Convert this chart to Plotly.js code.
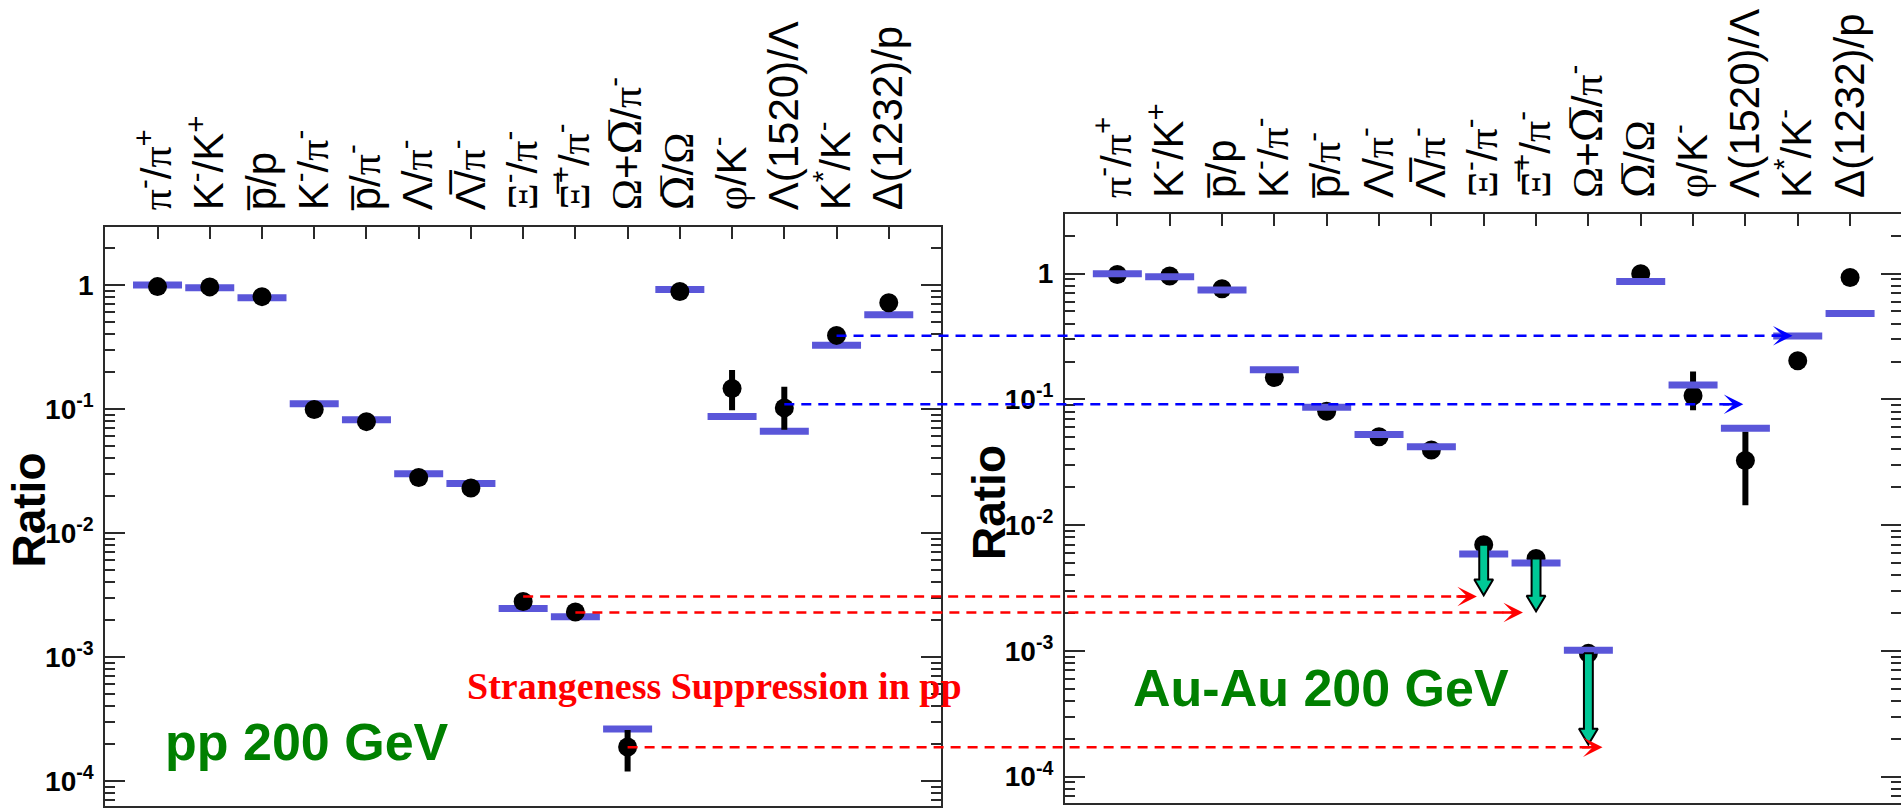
<!DOCTYPE html>
<html>
<head>
<meta charset="utf-8">
<script src="https://cdn.plot.ly/plotly-3.0.1.min.js"></script>
<style>
  html, body { margin: 0; padding: 0; background: #ffffff; }
  #chart { width: 1901px; height: 808px; }
</style>
</head>
<body>
<div id="chart"></div>
<script>
// Greek letters in a serif face, like the symbol font of the labels
const G = s => `<span style="font-family:'Liberation Serif','Times New Roman',serif">${s}</span>`;
// Barred Omega: a face that carries both the letter and the combining overline
const GB = s => `<span style="font-family:'DejaVu Serif',serif">${s}</span>`;
const OVER = '\u0305'; // combining overline for antiparticles

// Particle ratio categories (tick labels along the top axis)
const categories = [
  G('π') + '<sup>-</sup>/' + G('π') + '<sup>+</sup>',
  'K<sup>-</sup>/K<sup>+</sup>',
  'p' + OVER + '/p',
  'K<sup>-</sup>/' + G('π') + '<sup>-</sup>',
  'p' + OVER + '/' + G('π') + '<sup>-</sup>',
  'Λ/' + G('π') + '<sup>-</sup>',
  'Λ' + OVER + '/' + G('π') + '<sup>-</sup>',
  G('Ξ') + '<sup>-</sup>/' + G('π') + '<sup>-</sup>',
  G('Ξ' + OVER) + '<sup>+</sup>/' + G('π') + '<sup>-</sup>',
  G('Ω') + '+' + GB('Ω' + OVER) + '/' + G('π') + '<sup>-</sup>',
  GB('Ω' + OVER) + '/' + G('Ω'),
  G('φ') + '/K<sup>-</sup>',
  'Λ(1520)/Λ',
  'K<sup>*</sup>/K<sup>-</sup>',
  'Δ(1232)/p'
];
const catIndex = categories.map((_, i) => i + 1);

// p+p 200 GeV: measured ratios and model values
const ppData      = [0.97, 0.965, 0.805, 0.099, 0.079, 0.028, 0.023, 0.0028, 0.0023, 1.88e-4, 0.885, 0.146, 0.102, 0.392, 0.72];
const ppErrPlus   = [0, 0, 0, 0, 0, 0, 0, 0, 0, 0.55e-4, 0, 0.049, 0.041, 0, 0];
const ppErrMinus  = [0, 0, 0, 0, 0, 0, 0, 0, 0, 0.62e-4, 0, 0.043, 0.030, 0, 0];
const ppModel     = [1.0, 0.95, 0.79, 0.11, 0.082, 0.030, 0.025, 0.00246, 0.00211, 2.62e-4, 0.92, 0.087, 0.066, 0.327, 0.574];

// Au+Au 200 GeV: measured ratios and model values
const auData      = [0.986, 0.958, 0.758, 0.149, 0.0806, 0.0504, 0.0396, 0.00697, 0.00543, 9.55e-4, 1.0, 0.107, 0.0327, 0.203, 0.932];
const auErrPlus   = [0, 0, 0, 0, 0, 0, 0, 0, 0, 0, 0, 0.051, 0.0199, 0, 0];
const auErrMinus  = [0, 0, 0, 0, 0, 0, 0, 0, 0, 0, 0, 0.0205, 0.0175, 0, 0];
const auModel     = [1.0, 0.945, 0.742, 0.172, 0.0866, 0.0526, 0.042, 0.00589, 0.00499, 1.01e-3, 0.868, 0.13, 0.059, 0.319, 0.482];

// Au+Au multi-strange ratios drawn down to the p+p level
const limitCats   = [8, 9, 10];
const limitTo     = [0.00277, 0.00206, 1.8e-4];

// Dashed guide lines carried from the p+p panel into the Au+Au panel
const strangeCats   = [8, 9, 10];
const strangeLevels = [0.00307, 0.00228, 1.87e-4];
const strangeShift  = [-0.13, -0.25, 0.27];
const resoCats      = [14, 13];
const resoLevels    = [0.39, 0.109];
const resoShift     = [-0.1, -0.04];

// y axis labels
const decadeVals = [1e-4, 1e-3, 1e-2, 1e-1, 1];
const decadeText = ['10<sup>-4</sup>', '10<sup>-3</sup>', '10<sup>-2</sup>', '10<sup>-1</sup>', '1'];
const minorVals = [];
for (let e = -5; e <= 0; e++) for (let m = 2; m <= 9; m++) minorVals.push(m * Math.pow(10, e));

const FRAME = '#2a2a2a';
const MODEL_BLUE = '#5a56d9';
const SANS = "'Liberation Sans', Arial, Helvetica, sans-serif";
const SERIF = "'Liberation Serif', 'Times New Roman', serif";

const xLeft  = { domain: [0.05539, 0.49500], range: [0, 16] };
const xRight = { domain: [0.56023, 1.0], range: [0, 15.973] };
const yLeft  = { domain: [0.00285, 0.71943], range: [-4.20, 0.470] };
const yRight = { domain: [0.00668, 0.73478], range: [-4.207, 0.472] };

function xAxis(spec, anchor) {
  return {
    domain: spec.domain, range: spec.range, anchor: anchor, side: 'top',
    tickmode: 'array', tickvals: catIndex, ticktext: categories, tickangle: -90,
    ticks: 'inside', ticklen: 12, tickwidth: 2, tickcolor: FRAME,
    showline: true, linewidth: 2, linecolor: FRAME, mirror: true,
    showgrid: false, zeroline: false, ticklabelstandoff: 6,
    tickfont: { family: SANS, size: 42, color: '#000' }
  };
}
function yAxis(spec, anchor) {
  return {
    type: 'log', domain: spec.domain, range: spec.range, anchor: anchor,
    tickmode: 'array', tickvals: decadeVals, ticktext: decadeText,
    ticks: 'inside', ticklen: 20, tickwidth: 2, tickcolor: FRAME,
    minor: { tickmode: 'array', tickvals: minorVals, ticks: 'inside', ticklen: 10, tickwidth: 2, tickcolor: FRAME, showgrid: false },
    showline: true, linewidth: 2, linecolor: FRAME, mirror: 'ticks',
    showgrid: false, zeroline: false, ticklabelstandoff: 4,
    tickfont: { family: SANS, size: 28, weight: 'bold', color: '#000' }
  };
}

function modelTrace(vals, xa, ya) {
  return {
    type: 'scatter', mode: 'markers', x: catIndex, y: vals, xaxis: xa, yaxis: ya,
    marker: { symbol: 'line-ew', size: 35, color: MODEL_BLUE, line: { width: 7, color: MODEL_BLUE } },
    hoverinfo: 'skip'
  };
}
function dataTrace(vals, plus, minus, xa, ya) {
  return {
    type: 'scatter', mode: 'markers', x: catIndex, y: vals, xaxis: xa, yaxis: ya,
    marker: { symbol: 'circle', size: 19, color: '#000' },
    error_y: { type: 'data', symmetric: false, array: plus, arrayminus: minus, color: '#000', thickness: 6, width: 3 },
    hoverinfo: 'skip'
  };
}

// Down arrows (filled teal, black outline) from the Au+Au points to the p+p level
const arrowBody = 0.085, arrowHead = 0.18, arrowHeadDec = 0.125;
const ax = [], ay = [];
limitCats.forEach((c, i) => {
  const top = auData[c - 1], tip = limitTo[i];
  const base = tip * Math.pow(10, arrowHeadDec);
  ax.push(c - arrowBody, c + arrowBody, c + arrowBody, c + arrowHead, c, c - arrowHead, c - arrowBody, c - arrowBody, null);
  ay.push(top, top, base, base, tip, base, base, top, null);
});
const limitTrace = {
  type: 'scatter', mode: 'lines', x: ax, y: ay, xaxis: 'x2', yaxis: 'y2',
  fill: 'toself', fillcolor: '#00c896', line: { color: '#000', width: 2 }, hoverinfo: 'skip'
};

const traces = [
  modelTrace(ppModel, 'x', 'y'),
  dataTrace(ppData, ppErrPlus, ppErrMinus, 'x', 'y'),
  dataTrace(auData, auErrPlus, auErrMinus, 'x2', 'y2'),
  modelTrace(auModel, 'x2', 'y2'),
  limitTrace
];

function paperX(spec, v) {
  return spec.domain[0] + (v - spec.range[0]) / (spec.range[1] - spec.range[0]) * (spec.domain[1] - spec.domain[0]);
}

const shapes = [];
const annotations = [];
function guide(cat, level, shift, color) {
  const x0 = paperX(xLeft, cat);
  const x1 = paperX(xRight, cat + shift);
  shapes.push({
    type: 'line', xref: 'paper', yref: 'y', x0: x0, x1: x1 - 0.004, y0: level, y1: level,
    line: { color: color, width: 2.5, dash: '10px,7px' }, layer: 'above'
  });
  annotations.push({
    xref: 'paper', yref: 'y', x: x1, y: Math.log10(level), text: '',
    showarrow: true, arrowhead: 3, arrowsize: 1.3, arrowwidth: 2.5, arrowcolor: color,
    ax: -22, ay: 0
  });
}
strangeCats.forEach((c, i) => guide(c, strangeLevels[i], strangeShift[i], '#ff0000'));
resoCats.forEach((c, i) => guide(c, resoLevels[i], resoShift[i], '#0000ff'));

const W = 1901, H = 808;
annotations.push(
  { xref: 'paper', yref: 'paper', x: 163 / W, y: 1 - 742 / H, xanchor: 'left', yanchor: 'middle', showarrow: false,
    text: 'pp 200 GeV', font: { family: SANS, size: 52, weight: 'bold', color: '#008000' } },
  { xref: 'paper', yref: 'paper', x: 1131 / W, y: 1 - 688 / H, xanchor: 'left', yanchor: 'middle', showarrow: false,
    text: 'Au-Au 200 GeV', font: { family: SANS, size: 52, weight: 'bold', color: '#008000' } },
  { xref: 'paper', yref: 'paper', x: 465 / W, y: 1 - 686 / H, xanchor: 'left', yanchor: 'middle', showarrow: false,
    text: 'Strangeness Suppression in pp', font: { family: SERIF, size: 38, weight: 'bold', color: '#ff0000' } },
  { xref: 'paper', yref: 'paper', x: 28.5 / W, y: 1 - 510 / H, xanchor: 'center', yanchor: 'middle', showarrow: false,
    textangle: -90, text: 'Ratio', font: { family: SANS, size: 46, weight: 'bold', color: '#000' } },
  { xref: 'paper', yref: 'paper', x: 989 / W, y: 1 - 502 / H, xanchor: 'center', yanchor: 'middle', showarrow: false,
    textangle: -90, text: 'Ratio', font: { family: SANS, size: 46, weight: 'bold', color: '#000' } }
);

const layout = {
  width: W, height: H, autosize: false,
  margin: { l: 0, r: 0, t: 0, b: 0, pad: 0 },
  paper_bgcolor: '#ffffff', plot_bgcolor: '#ffffff',
  showlegend: false,
  xaxis: xAxis(xLeft, 'y'),
  yaxis: yAxis(yLeft, 'x'),
  xaxis2: xAxis(xRight, 'y2'),
  yaxis2: yAxis(yRight, 'x2'),
  shapes: shapes,
  annotations: annotations
};

Plotly.newPlot('chart', traces, layout, { displayModeBar: false, staticPlot: true });
</script>
</body>
</html>
